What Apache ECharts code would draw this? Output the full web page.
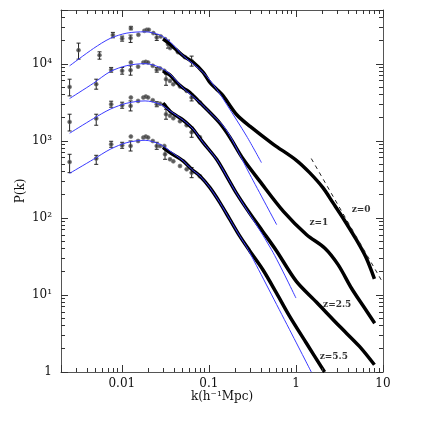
<!DOCTYPE html>
<html>
<head>
<meta charset="utf-8">
<script src="https://cdn.jsdelivr.net/npm/echarts@6/dist/echarts.min.js"></script>
<style>
  html, body { margin: 0; padding: 0; background: #fff; }
  #chart { width: 424px; height: 424px; }
</style>
</head>
<body>
<div id="chart"></div>
<script>
// measured points [k, P] and error bars [k, low, high], one set per redshift
const z0Points = [[0.00318,15070],[0.00554,12970],[0.00789,23610],[0.01008,21280],[0.0127,29110],[0.0126,21580],[0.01549,23830],[0.01815,26850],[0.01934,27670],[0.02039,27670],[0.02301,25060],[0.02518,22030],[0.02797,22710],[0.03133,20940],[0.03392,18030],[0.0359,16000],[0.04414,14190],[0.0531,12220],[0.06335,10840]];
const z0Errors = [[0.00318,11510,18580],[0.00554,11510,14320],[0.00789,21790,25600],[0.01008,19720,22910],[0.0127,27680,30640],[0.0126,18970,23610],[0.02518,20150,24100],[0.03392,16000,20330],[0.06335,9340,12600]];

const z1Points = [[0.002511,5020],[0.005077,5445],[0.00754,8355],[0.01008,8110],[0.0127,10430],[0.0126,8280],[0.01537,9200],[0.01768,10430],[0.01884,10610],[0.02001,10430],[0.02265,9420],[0.02518,8355],[0.02746,8710],[0.03076,8110],[0.03217,6320],[0.03575,6010],[0.03901,5445],[0.04656,5080],[0.05554,4455],[0.06335,3656],[0.07885,3148]];
const z1Errors = [[0.002511,3837,6320],[0.005077,4690,6320],[0.00754,7800,8980],[0.01008,7345,8980],[0.0126,7130,9420],[0.02518,7800,8980],[0.03217,5270,7345],[0.06335,3303,4035]];

const z25Points = [[0.002511,1762],[0.005077,1950],[0.00754,2992],[0.01008,2904],[0.0127,3656],[0.0126,2844],[0.01537,3303],[0.01768,3656],[0.01884,3767],[0.02001,3656],[0.02265,3375],[0.02518,2992],[0.02746,3040],[0.03076,2904],[0.03217,2218],[0.03575,2124],[0.03901,1968],[0.04656,1800],[0.05554,1596],[0.06335,1294],[0.07885,1114]];
const z25Errors = [[0.002511,1345,2218],[0.005077,1596,2218],[0.00754,2735,3274],[0.01008,2654,3177],[0.0126,2448,3303],[0.02518,2775,3223],[0.03217,1911,2576],[0.06335,1114,1503]];

const z55Points = [[0.002511,532],[0.005077,589],[0.00754,903],[0.01008,877],[0.0127,1138],[0.0126,859],[0.01537,997],[0.01768,1104],[0.01884,1138],[0.02001,1104],[0.02265,997],[0.02518,859],[0.02746,859],[0.03076,859],[0.03133,670],[0.03575,577],[0.03901,543],[0.04656,472],[0.05554,428],[0.06335,387],[0.07885,347]];
const z55Errors = [[0.002511,387,670],[0.005077,496,650],[0.00754,826,988],[0.01008,802,959],[0.0126,739,997],[0.02518,778,959],[0.03133,577,778],[0.06335,333,450]];

// simulation (thick black) curves
const z0Sim = [[0.02972,20940],[0.03575,18030],[0.04266,15070],[0.05077,12700],[0.0661,10430],[0.08602,7730],[0.1027,5730],[0.1226,4690],[0.1458,3837],[0.2077,2200],[0.2949,1550],[0.5451,910],[1.011,560],[1.435,387],[2.039,247],[2.654,158],[3.454,100.6],[4.92,52.5],[6.403,30.4],[7.97,16.2]];
const z1Sim = [[0.02972,8035],[0.03575,7130],[0.04266,5730],[0.05077,4835],[0.06059,4246],[0.07885,3148],[0.1027,2333],[0.1337,1694],[0.174,1114],[0.2452,590],[0.3839,300],[0.7172,121.6],[1.326,60.5],[2.149,40.5],[3.06,24.6],[4.345,12.22],[6.171,6.71],[8.03,4.29]];
const z25Sim = [[0.02972,3084],[0.03575,2427],[0.04266,2109],[0.05077,1854],[0.06059,1563],[0.0661,1416],[0.08602,950],[0.1226,577],[0.1595,350],[0.2077,208.4],[0.2949,114.8],[0.4154,66.8],[0.5963,37.5],[1.011,15.0],[1.713,8.1],[3.168,3.92],[5.366,2.15],[7.97,1.24]];
const z55Sim = [[0.02972,826],[0.03575,704],[0.05077,548],[0.06335,428],[0.07885,350],[0.1027,247],[0.1337,158],[0.174,95.7],[0.2265,58.0],[0.2949,37.3],[0.4188,21.1],[0.5963,10.65],[0.8469,5.28],[1.315,2.38],[2.132,1.0]];

// linear theory (thin blue) curves
const z0Lin = [[0.002511,9420],[0.004727,15850],[0.007345,21400],[0.01141,25060],[0.01849,26060],[0.02746,23610],[0.03575,19320],[0.05077,12700],[0.08602,7730],[0.1226,4690],[0.1595,2992],[0.2703,1159],[0.4016,522]];
const z1Lin = [[0.002511,3548],[0.004727,5610],[0.007345,7925],[0.01141,9480],[0.01849,10060],[0.02746,8980],[0.03575,7345],[0.05077,4835],[0.07885,3148],[0.1027,2333],[0.1566,1416],[0.2949,368],[0.6009,81.6]];
const z25Lin = [[0.002511,1257],[0.004727,1950],[0.007345,2576],[0.01141,3084],[0.01849,3303],[0.02746,2992],[0.03575,2448],[0.05077,1854],[0.0661,1416],[0.08602,950],[0.1226,577],[0.1595,350],[0.2077,208.4],[0.5226,38.9],[1.0,9.12]];
const z55Lin = [[0.002511,379],[0.004727,577],[0.007345,778],[0.01141,950],[0.01849,1018],[0.02746,903],[0.03575,739],[0.05077,548],[0.06335,428],[0.07885,350],[0.1027,247],[0.1337,158],[0.174,95.7],[0.2265,58.0],[0.2819,38.9],[1.501,1.0]];

// dashed slope line
const dashLine = [[1.5,590],[10,14.3]];

// curve labels
const labelNames = ['z=0', 'z=1', 'z=2.5', 'z=5.5'];
const labelK = [5.61, 1.834, 2.98, 2.725];
const labelP = [129, 86.7, 7.5, 1.567];

// axis ranges and tick labels
const xMin = 0.002, xMax = 10;
const yMin = 1, yMax = 50000;
const xTickLabels = { '-2': '0.01', '-1': '0.1', '0': '1', '1': '10' };
const yTickLabels = { '0': '1', '1': '10¹', '2': '10²', '3': '10³', '4': '10⁴' };
const minorSteps = [2, 3, 4, 5, 6, 7, 8, 9];

const xMinor = [];
[0.001, 0.01, 0.1, 1].forEach(d => minorSteps.forEach(m => {
  const v = d * m;
  if (v > xMin * 1.001 && v < xMax) xMinor.push(v);
}));
const yMinor = [];
[1, 10, 100, 1000, 10000].forEach(d => minorSteps.forEach(m => {
  const v = d * m;
  if (v < yMax * 0.999) yMinor.push(v);
}));

const font = 'DejaVu Serif';
const axisColor = '#333';
const minorLen = 4;

function decadeLabel(map) {
  return function (value) {
    const e = Math.log10(value);
    const r = Math.round(e);
    if (Math.abs(e - r) > 1e-6) return '';
    return map[String(r)] || '';
  };
}

function logAxis(extra) {
  return Object.assign({
    type: 'log',
    logBase: 10,
    axisLine: { lineStyle: { color: '#555', width: 1 } },
    axisTick: { inside: true, length: 7, lineStyle: { color: axisColor, width: 1 } },
    splitLine: { show: false },
    axisLabel: { show: false }
  }, extra);
}

function seg(x1, y1, x2, y2, color) {
  return {
    type: 'line',
    shape: { x1: x1, y1: y1, x2: x2, y2: y2 },
    style: { stroke: color, lineWidth: 1, fill: null }
  };
}

// crisp one pixel wide tick as a filled rect
function tickRect(x, y, w, h) {
  return {
    type: 'rect',
    shape: { x: x, y: y, width: w, height: h },
    style: { fill: axisColor, stroke: null }
  };
}

function errorBars(errs) {
  return {
    type: 'custom',
    data: errs,
    encode: { x: 0, y: [1, 2] },
    silent: true,
    z: 3,
    renderItem: function (params, api) {
      const hi = api.coord([api.value(0), api.value(2)]);
      const lo = api.coord([api.value(0), api.value(1)]);
      return {
        type: 'group',
        children: [
          seg(hi[0], hi[1], lo[0], lo[1], '#222'),
          seg(hi[0] - 2, hi[1], hi[0] + 2, hi[1], '#222'),
          seg(lo[0] - 2, lo[1], lo[0] + 2, lo[1], '#222')
        ]
      };
    }
  };
}

function points(data) {
  return {
    type: 'scatter',
    data: data,
    symbol: 'circle',
    symbolSize: 4,
    itemStyle: { color: '#333', borderColor: '#777', borderWidth: 0.8 },
    silent: true,
    z: 3
  };
}

function simLine(data) {
  return {
    type: 'line',
    data: data,
    smooth: 0.3,
    showSymbol: false,
    lineStyle: { color: '#000', width: 3.5 },
    silent: true,
    z: 4
  };
}

function linLine(data) {
  return {
    type: 'line',
    data: data,
    smooth: 0.3,
    showSymbol: false,
    lineStyle: { color: '#3a3aff', width: 1 },
    silent: true,
    z: 5
  };
}

const chart = echarts.init(document.getElementById('chart'));
chart.setOption({
  animation: false,
  backgroundColor: '#fff',
  grid: { left: 61, right: 41, top: 10, bottom: 52 },
  xAxis: [
    logAxis({
      min: xMin, max: xMax, position: 'bottom',
      name: 'k(h⁻¹Mpc)', nameLocation: 'middle', nameGap: 19, nameMoveOverlap: false,
      nameTextStyle: { fontFamily: font, fontSize: 12, color: '#111', verticalAlign: 'top' },
      axisLabel: {
        show: true, margin: 6, fontFamily: font, fontSize: 12, color: '#111',
        showMinLabel: true, showMaxLabel: true,
        formatter: decadeLabel(xTickLabels)
      }
    }),
    logAxis({ min: xMin, max: xMax, position: 'top' })
  ],
  yAxis: [
    logAxis({
      min: yMin, max: yMax, position: 'left',
      name: 'P(k)', nameLocation: 'middle', nameGap: 34, nameRotate: 90, nameMoveOverlap: false,
      nameTextStyle: { fontFamily: font, fontSize: 12, color: '#111' },
      axisLabel: {
        show: true, margin: 9, fontFamily: font, fontSize: 12, color: '#111',
        showMinLabel: true, showMaxLabel: true,
        formatter: decadeLabel(yTickLabels)
      }
    }),
    logAxis({ min: yMin, max: yMax, position: 'right' })
  ],
  series: [
    {
      type: 'custom',
      data: xMinor.map(v => [v, 10]),
      encode: { x: 0, y: 1 },
      silent: true,
      clip: false,
      z: 6,
      renderItem: function (params, api) {
        const b = api.coord([api.value(0), yMin]);
        const t = api.coord([api.value(0), yMax]);
        const x = Math.floor(b[0]);
        return {
          type: 'group',
          children: [
            tickRect(x, Math.round(b[1]) - minorLen, 1, minorLen),
            tickRect(x, Math.round(t[1]), 1, minorLen)
          ]
        };
      }
    },
    {
      type: 'custom',
      data: yMinor.map(v => [0.1, v]),
      encode: { x: 0, y: 1 },
      silent: true,
      clip: false,
      z: 6,
      renderItem: function (params, api) {
        const l = api.coord([xMin, api.value(1)]);
        const r = api.coord([xMax, api.value(1)]);
        const y = Math.floor(l[1]);
        return {
          type: 'group',
          children: [
            tickRect(Math.round(l[0]), y, minorLen, 1),
            tickRect(Math.round(r[0]) - minorLen, y, minorLen, 1)
          ]
        };
      }
    },
    errorBars(z0Errors), errorBars(z1Errors), errorBars(z25Errors), errorBars(z55Errors),
    points(z0Points), points(z1Points), points(z25Points), points(z55Points),
    simLine(z0Sim), simLine(z1Sim), simLine(z25Sim), simLine(z55Sim),
    linLine(z0Lin), linLine(z1Lin), linLine(z25Lin), linLine(z55Lin),
    {
      type: 'line',
      data: dashLine,
      showSymbol: false,
      lineStyle: { color: '#222', width: 1, type: [4, 4] },
      silent: true,
      z: 4
    },
    {
      type: 'scatter',
      data: labelNames.map((t, i) => [labelK[i], labelP[i], t]),
      symbolSize: 1,
      itemStyle: { color: 'rgba(0,0,0,0)' },
      label: {
        show: true, position: 'inside', fontFamily: font, fontSize: 9, fontWeight: 'bold', color: '#000',
        formatter: p => p.data[2]
      },
      silent: true,
      z: 6
    }
  ]
});
</script>
</body>
</html>
